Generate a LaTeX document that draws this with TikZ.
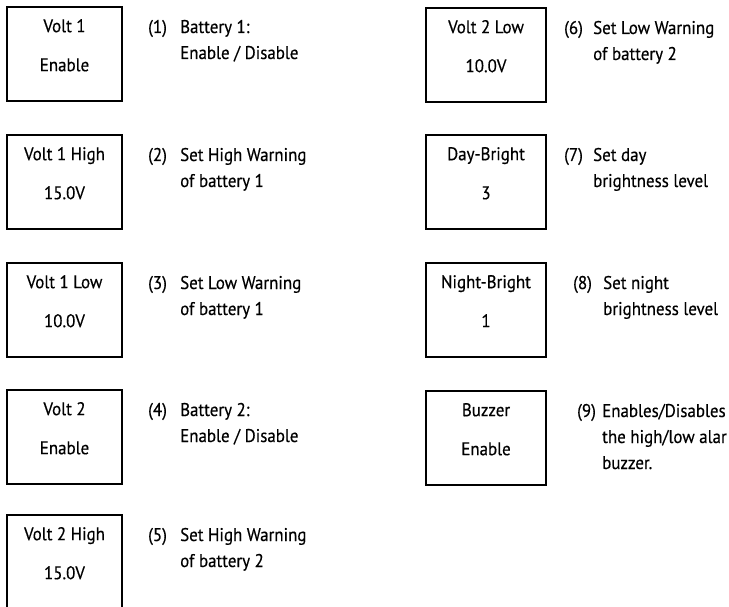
\documentclass[tikz,border=0pt]{standalone}
\usepackage{fontspec}
\setmainfont[FakeStretch=0.92, FakeBold=0.4]{PT Sans}
\usetikzlibrary{positioning}

\newcommand{\lines}[1]{\begin{tabular}[t]{@{}l@{}}#1\end{tabular}}

\begin{document}
\begin{tikzpicture}[x=1pt, y=-1pt,
    every node/.style={font=\fontsize{18.4}{26}\selectfont},
    panel/.style={draw, line width=1.6pt, minimum height=94pt, inner sep=0pt},
    lpanel/.style={panel, minimum width=115pt},
    rpanel/.style={panel, minimum width=120pt},
    val/.style={anchor=base, inner sep=0pt},
    num/.style={anchor=base west, inner sep=0pt},
    desc/.style={anchor=base west, inner sep=0pt}]
  \useasboundingbox (0,0) rectangle (729,607);

  % left column
  \node[lpanel] (v1) at (64.5,54) {};
  \node[val] at ([yshift=-26pt]v1.north) {Volt 1};
  \node[val] at ([yshift=-65pt]v1.north) {Enable};
  \node[num] (n1) at (148,33) {(1)};
  \node[desc] (d1) at (180,33) {\lines{Battery 1:\\Enable / Disable}};

  \node[lpanel] (v1hi) at (64.5,182) {};
  \node[val] at ([yshift=-26pt]v1hi.north) {Volt 1 High};
  \node[val] at ([yshift=-65pt]v1hi.north) {15.0V};
  \node[num] (n2) at (148,161) {(2)};
  \node[desc] (d2) at (180,161) {\lines{Set High Warning\\of battery 1}};

  \node[lpanel] (v1lo) at (64.5,310) {};
  \node[val] at ([yshift=-26pt]v1lo.north) {Volt 1 Low};
  \node[val] at ([yshift=-65pt]v1lo.north) {10.0V};
  \node[num] (n3) at (148,289) {(3)};
  \node[desc] (d3) at (180,289) {\lines{Set Low Warning\\of battery 1}};

  \node[lpanel] (v2) at (64.5,437) {};
  \node[val] at ([yshift=-26pt]v2.north) {Volt 2};
  \node[val] at ([yshift=-65pt]v2.north) {Enable};
  \node[num] (n4) at (148,416) {(4)};
  \node[desc] (d4) at (180,416) {\lines{Battery 2:\\Enable / Disable}};

  % last box runs off the bottom edge
  \node[lpanel] (v2hi) at (64.5,562) {};
  \node[val] at ([yshift=-26pt]v2hi.north) {Volt 2 High};
  \node[val] at ([yshift=-65pt]v2hi.north) {15.0V};
  \node[num] (n5) at (148,541) {(5)};
  \node[desc] (d5) at (180,541) {\lines{Set High Warning\\of battery 2}};

  % right column
  \node[rpanel] (v2lo) at (486,55) {};
  \node[val] at ([yshift=-26pt]v2lo.north) {Volt 2 Low};
  \node[val] at ([yshift=-65pt]v2lo.north) {10.0V};
  \node[num] (n6) at (564,34) {(6)};
  \node[desc] (d6) at (593,34) {\lines{Set Low Warning\\of battery 2}};

  \node[rpanel] (day) at (486,182) {};
  \node[val] at ([yshift=-26pt]day.north) {Day-Bright};
  \node[val] at ([yshift=-65pt]day.north) {3};
  \node[num] (n7) at (564,161) {(7)};
  \node[desc] (d7) at (593,161) {\lines{Set day\\brightness level}};

  \node[rpanel] (night) at (486,310) {};
  \node[val] at ([yshift=-26pt]night.north) {Night-Bright};
  \node[val] at ([yshift=-65pt]night.north) {1};
  \node[num] (n8) at (573,289) {(8)};
  \node[desc] (d8) at (603,289) {\lines{Set night\\brightness level}};

  \node[rpanel] (buzz) at (486,438) {};
  \node[val] at ([yshift=-26pt]buzz.north) {Buzzer};
  \node[val] at ([yshift=-65pt]buzz.north) {Enable};
  \node[num] (n9) at (577,417) {(9)};
  \node[desc] (d9) at (602,417) {\lines{Enables/Disables\\the high/low alar\\buzzer.}};
\end{tikzpicture}
\end{document}
